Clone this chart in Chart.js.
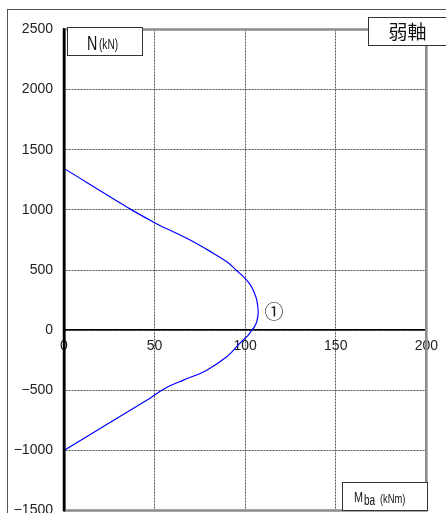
<!DOCTYPE html>
<html><head><meta charset="utf-8">
<script src="https://cdn.jsdelivr.net/npm/chart.js@4/dist/chart.umd.min.js"></script>
<style>
html,body{margin:0;padding:0;overflow:hidden;background:#fff;width:446px;height:513px}
#wrap{position:relative;width:446px;height:530px}
</style></head>
<body><div id="wrap"><canvas id="c" width="446" height="530"></canvas></div>
<script>
// Interaction curve ① (weak axis): bending moment Mba [kNm] vs axial force N [kN]
const momentKNm = [0, 37.4, 50, 54, 58.6, 69.6, 80.7, 89.9, 95.4, 99, 102.5, 104.8, 106.4, 107.2, 106.4, 105, 103.7, 101.5, 97, 89.8, 78.8, 65.9, 58.5, 54, 47.5, 0];
const axialKN   = [1345, 1000, 893, 862, 830, 750, 655, 568, 494, 445, 385, 320, 250, 150, 70, 25, 0, -45, -110, -222, -333, -416, -462, -500, -566, -1000];
const xTicks = [0, 50, 100, 150, 200];
const yTicks = [2500, 2000, 1500, 1000, 500, 0, -500, -1000, -1500];
const yAxisTitle = ['N', '(kN)'];
const xAxisTitle = ['M', 'ba', '(kNm)'];
const panelTitle = '弱軸';
const curveLabel = '①';

const SANS = '"Liberation Sans", Arial, sans-serif';
const CJK = '"Noto Sans CJK JP", "Noto Sans", sans-serif';

const points = momentKNm.map((m, i) => ({x: m, y: axialKN[i]}));

function narrowText(ctx, txt, x, y, size, sx) {
  ctx.save();
  ctx.font = size + 'px ' + SANS;
  ctx.translate(x, y); ctx.scale(sx, 1);
  ctx.fillText(txt, 0, 0);
  ctx.restore();
}

const deco = {
  id: 'deco',
  afterDraw(chart) {
    const {ctx, chartArea: a} = chart;
    ctx.save();
    // outer frame
    ctx.strokeStyle = '#555'; ctx.lineWidth = 1;
    ctx.strokeRect(7.5, 9.5, 700, 700);
    // plot frame: gray top/right/bottom
    ctx.strokeStyle = '#8c8c8c'; ctx.lineWidth = 2.6;
    ctx.beginPath();
    ctx.moveTo(a.left, a.top); ctx.lineTo(a.right, a.top);
    ctx.lineTo(a.right, a.bottom); ctx.lineTo(a.left, a.bottom);
    ctx.stroke();
    // left black axis line
    ctx.strokeStyle = '#000'; ctx.lineWidth = 2.5;
    ctx.beginPath(); ctx.moveTo(a.left, a.top - 1); ctx.lineTo(a.left, a.bottom + 1); ctx.stroke();

    ctx.fillStyle = '#fff'; ctx.strokeStyle = '#333'; ctx.lineWidth = 1;
    // N box
    ctx.fillRect(67, 27, 75, 29); ctx.strokeRect(67.5, 27.5, 75, 28);
    ctx.fillStyle = '#111'; ctx.textBaseline = 'alphabetic'; ctx.textAlign = 'left';
    narrowText(ctx, yAxisTitle[0], 87, 49.5, 21, 0.68);
    narrowText(ctx, yAxisTitle[1], 99, 49, 14, 0.72);

    // panel title box
    ctx.fillStyle = '#fff';
    ctx.fillRect(368, 17, 90, 29); ctx.strokeRect(368.5, 17.5, 90, 28);
    ctx.fillStyle = '#111'; ctx.textAlign = 'center'; ctx.textBaseline = 'middle';
    ctx.font = '19px ' + CJK; ctx.fillText(panelTitle, 407.5, 31.5);

    // M box
    ctx.fillStyle = '#fff';
    ctx.fillRect(342, 482, 85, 29); ctx.strokeRect(342.5, 482.5, 85, 28);
    ctx.fillStyle = '#111'; ctx.textAlign = 'left'; ctx.textBaseline = 'alphabetic';
    narrowText(ctx, xAxisTitle[0], 354, 502, 15, 0.72);
    narrowText(ctx, xAxisTitle[1], 364, 504.5, 14, 0.72);
    narrowText(ctx, xAxisTitle[2], 380, 502.5, 13, 0.72);

    // curve label
    ctx.textAlign = 'center'; ctx.textBaseline = 'middle';
    ctx.font = '19px ' + CJK; ctx.fillStyle = '#222';
    ctx.fillText(curveLabel, 274, 312);
    ctx.restore();
  }
};

new Chart(document.getElementById('c'), {
  type: 'scatter',
  data: {
    datasets: [{
      data: points,
      showLine: true,
      borderColor: '#0000ff',
      borderWidth: 1.2,
      pointRadius: 0,
      tension: 0.35,
      fill: false
    }]
  },
  options: {
    responsive: false,
    animation: false,
    devicePixelRatio: 1,
    layout: {padding: {left: 0, top: 29.5, right: 19.5, bottom: 19.5}},
    plugins: {legend: {display: false}, tooltip: {enabled: false}},
    scales: {
      x: {
        type: 'linear', min: 0, max: 200,
        position: {y: 0},
        afterBuildTicks: s => { s.ticks = xTicks.map(v => ({value: v})); },
        grid: {color: '#555', lineWidth: 1, drawTicks: false, tickLength: 0},
        border: {display: true, color: '#000', width: 1.5, dash: [2, 1]},
        ticks: {padding: 8, color: '#222', autoSkip: false, maxRotation: 0,
          font: {family: SANS, size: 14}}
      },
      y: {
        type: 'linear', min: -1500, max: 2500,
        afterBuildTicks: s => { s.ticks = yTicks.map(v => ({value: v})); },
        afterFit: s => { s.width = 64; },
        grid: {color: '#555', lineWidth: 1, drawTicks: false, tickLength: 0},
        border: {display: true, color: '#000', width: 2.5, dash: [2, 1]},
        ticks: {padding: 11, color: '#222', autoSkip: false,
          font: {family: SANS, size: 14},
          callback: v => v < 0 ? '\u2212' + Math.abs(v) : String(v)}
      }
    }
  },
  plugins: [deco]
});
</script>
</body></html>
